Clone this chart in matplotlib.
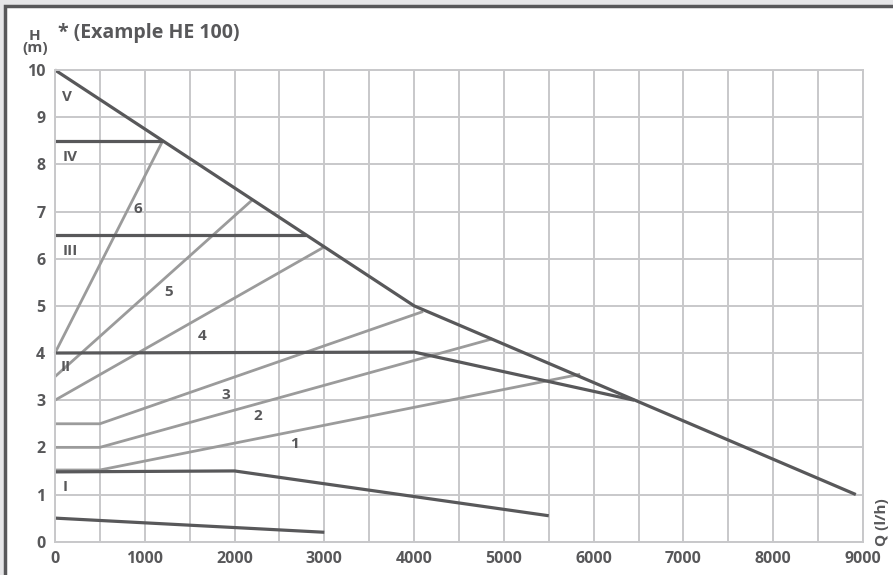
import matplotlib
matplotlib.use("Agg")
from matplotlib import pyplot as plt
from matplotlib.patches import Rectangle

# dark curves (Q in l/h, H in m)
curve_V_q = [0, 4000, 8920]
curve_V_h = [10, 5, 1]
curve_IV_q = [0, 1200]
curve_IV_h = [8.5, 8.5]
curve_III_q = [0, 2800]
curve_III_h = [6.5, 6.5]
curve_II_q = [0, 4000, 6450]
curve_II_h = [4.0, 4.02, 3.0]
curve_I_q = [0, 2000, 5500]
curve_I_h = [1.48, 1.5, 0.55]
curve_0_q = [0, 3000]
curve_0_h = [0.5, 0.2]

# light curves
curve_1_q = [0, 500, 5850]
curve_1_h = [1.52, 1.52, 3.55]
curve_2_q = [0, 500, 4870]
curve_2_h = [2.0, 2.0, 4.3]
curve_3_q = [0, 500, 4100]
curve_3_h = [2.5, 2.5, 4.88]
curve_4_q = [0, 3000]
curve_4_h = [3.0, 6.25]
curve_5_q = [0, 2200]
curve_5_h = [3.5, 7.25]
curve_6_q = [0, 1200]
curve_6_h = [4.0, 8.5]

roman_labels = ["V", "IV", "III", "II", "I"]
roman_q = [80, 80, 80, 60, 90]
roman_h = [9.43, 8.16, 6.16, 3.7, 1.17]
num_labels = ["6", "5", "4", "3", "2", "1"]
num_q = [925, 1270, 1640, 1900, 2258, 2673]
num_h = [7.05, 5.29, 4.37, 3.11, 2.67, 2.07]

x_ticks = [0, 1000, 2000, 3000, 4000, 5000, 6000, 7000, 8000, 9000]
y_ticks = [0, 1, 2, 3, 4, 5, 6, 7, 8, 9, 10]

dark = "#58585a"
light = "#9b9b9b"
gridc = "#c8c8ca"
font = ["Open Sans", "DejaVu Sans"]

fig = plt.figure(figsize=(8.93, 5.75), dpi=100)
fig.patch.set_facecolor("#e6e6e8")
frame = Rectangle((5 / 893, -0.1), 1.2, (575 - 6) / 575 + 0.1,
                  transform=fig.transFigure, facecolor="white",
                  edgecolor=dark, linewidth=2.5, zorder=-10)
fig.patches.append(frame)

ax = fig.add_axes([55 / 893, (575 - 541.7) / 575, 808 / 893, 471.7 / 575])
ax.set_zorder(1)
ax.set_xlim(0, 9000)
ax.set_ylim(0, 10)
ax.set_xticks(range(0, 9001, 500))
ax.set_yticks(y_ticks)
ax.grid(True, color=gridc, linewidth=1.4)
ax.set_axisbelow(True)
for s in ax.spines.values():
    s.set_color(gridc)
    s.set_linewidth(1.4)
ax.tick_params(length=0, pad=7, colors=dark)
ax.set_xticklabels([str(v) if v in x_ticks else "" for v in range(0, 9001, 500)],
                   fontsize=11.5, fontweight="bold", family=font)
ax.set_yticklabels([str(v) for v in y_ticks], fontsize=11.5, fontweight="bold", family=font)
ax.patch.set_alpha(0)

for q, h in [(curve_1_q, curve_1_h), (curve_2_q, curve_2_h), (curve_3_q, curve_3_h),
             (curve_4_q, curve_4_h), (curve_5_q, curve_5_h), (curve_6_q, curve_6_h)]:
    ax.plot(q, h, color=light, linewidth=2.0, solid_capstyle="butt", clip_on=False)

for q, h in [(curve_V_q, curve_V_h), (curve_IV_q, curve_IV_h), (curve_III_q, curve_III_h),
             (curve_II_q, curve_II_h), (curve_I_q, curve_I_h), (curve_0_q, curve_0_h)]:
    ax.plot(q, h, color=dark, linewidth=2.3, solid_capstyle="butt", clip_on=False)

for t, q, h in zip(roman_labels, roman_q, roman_h):
    ax.text(q, h, t, color=dark, fontsize=11, fontweight="bold", family=font,
            ha="left", va="center")
for t, q, h in zip(num_labels, num_q, num_h):
    ax.text(q, h, t, color=dark, fontsize=11, fontweight="bold", family=font,
            ha="center", va="center")

fig.text(35 / 893, 1 - 42 / 575, "H\n(m)", color=dark, fontsize=11, fontweight="bold",
         family=font, ha="center", va="center", linespacing=0.85)
fig.text(58 / 893, 1 - 33 / 575, "* (Example HE 100)", color=dark, fontsize=14,
         fontweight="bold", family=font, ha="left", va="center")
fig.text(882 / 893, 1 - 522 / 575, "Q (l/h)", color=dark, fontsize=11, fontweight="bold",
         family=font, ha="center", va="center", rotation=90)

fig.savefig("out.png", dpi=100, facecolor=fig.get_facecolor())
